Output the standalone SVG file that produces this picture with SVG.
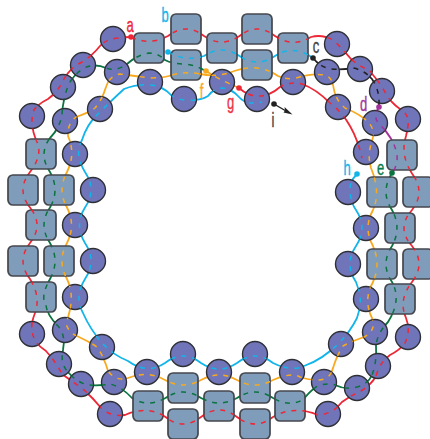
<svg xmlns="http://www.w3.org/2000/svg" width="430" height="439" viewBox="0 0 430 439">
<style>
.chain{fill:none;stroke-width:1.8;stroke-linecap:butt}
.dash{stroke-dasharray:5 6;stroke-width:1.5}
.red{stroke:#ee2737}.cyan{stroke:#12b5ea}.green{stroke:#0b7340}.orange{stroke:#f9a91e}.black{stroke:#222}.purple{stroke:#a4329a}
.c{fill:#6f75b8;stroke:#2f3036;stroke-width:1.4}
.s{fill:#7f9dbb;stroke:#45474d;stroke-width:1.7}
.lab{font-family:"Liberation Sans",Arial,sans-serif;font-size:21px;text-anchor:middle;stroke-width:.4}
</style>
<defs>
<path id="p-red" d="M131,37Q149,46 168,36Q186,22 204,36Q222,48 239.5,36Q257,22 275,36Q293,48 311,37Q322,34 333,40Q343,49 351,59Q360,67 369,70Q378,80 385,92Q390,102 400,109Q410,115 408,126Q407,132 406,136Q400,155 412,173.5Q426,192 412,210Q396,228 412,246Q426,264 412,282Q398,300 406,318Q411,330 405,343Q400,350 390,355Q380,362 376,376Q372,384 361,391Q350,396 342,402Q333,414 318,415Q293,405 273,417Q255,431 237,417Q219,403 201,417Q183,431 165.5,417Q148,405 125,415Q112,417 102,409Q93,398 82,388Q70,380 62,374Q56,362 46,351Q33,343 32,330Q31,323 35,313Q41,297 30,279Q16,261 30,243Q44,225 30,207.5Q16,190 30,172Q44,154 36,140Q30,125 33,112Q36,105 48,99Q58,92 64,79Q70,68 82,62Q92,56 100,46Q106,39 118,38Q125,37 131,37"/>
<path id="p-red2" d="M239,88Q248,96 258,96Q270,96 280,87Q290,81 302,84Q316,89 330,103Q343,113 350,126Q358,140 362,158"/>
<path id="p-cyan" d="M357,174Q349,182 350,192Q351,203 356,210Q368,228 356,246Q344,264 356,282Q364,300 357,318Q350,332 339,343Q322,360 304,366Q291,372 273,363Q255,349 237,363Q219,375 201,363Q183,349 165,363Q147,375 128,361Q113,355 102,343Q90,329 83,313Q74,297 85,279Q97,261 85,243Q74,225 85,207.5Q97,190 85,172Q74,154 82,140Q87,124 98,114Q112,100 124,89Q136,84 150,85Q163,86 171,95Q177,100 187,100Q200,101 208,96Q214,88 223,88Q233,90 238,96Q244,103 251,103Q256,103 262,102"/>
<path id="p-cyan2" d="M168,52Q186,62 204,56Q222,44 239.5,56Q257,68 275,56Q293,44 313,58"/>
<path id="p-green" d="M392,173Q380,192 392,210Q402,228 392,246Q380,264 392,282Q402,300 388,322Q378,332 376,345Q377,362 372,375Q368,384 357,387Q345,390 335,385Q326,382 316,387Q308,393 304,399Q290,408 273,398Q255,386 237,398Q219,408 201,398Q183,386 165.5,398Q148,408 132,398Q122,387 110,384Q100,386 88,385Q76,382 67,371Q60,362 63,350Q66,335 58,326Q47,315 46,305Q40,297 50,279Q60,261 50,243Q38,225 50,207.5Q60,190 50,172Q38,154 50,138Q60,128 62,114Q63,100 68,86Q73,75 84,68Q95,63 106,68Q116,72 127,64Q137,55 149,53Q158,53 165,60Q172,64 185,64Q195,65 206,71"/>
<path id="p-orange" d="M200,74Q215,77 229,73Q243,67 257,68Q270,70 278,76Q286,80 296,78Q312,73 324,75Q331,76 333,85Q335,100 345,108Q360,114 368,122Q376,130 372,141Q367,155 371,168Q381,192 373,210Q363,228 373,246Q381,264 373,282Q363,300 372,318Q377,330 364,337Q352,341 343,346Q337,355 333,368Q330,380 318,380Q308,380 300,377Q291,372 273,380Q255,390 237,380Q219,370 201,380Q183,390 165,380Q147,370 128,378Q116,382 108,371Q104,357 97,347Q88,341 79,337Q68,333 66,323Q76,297 67,279Q57,261 67,243Q76,225 67,207.5Q57,190 67,172Q76,154 68,136Q67,124 76,117Q88,113 95,108Q102,100 106,87Q109,76 120,74Q135,76 150,78Q165,78 172,75Q186,71 200,74"/>
<path id="p-orange2" d="M206,71Q218,79 239,88"/>
<path id="p-black" d="M313,58Q320,67 331,69Q343,70 353,68Q364,70 372,79Q380,90 379,107"/>
<path id="p-purple" d="M379,107Q372,117 380,125Q394,138 397,155Q398,165 392,173"/>
<clipPath id="inside">
<circle cx="113" cy="39" r="12.5"/><circle cx="83" cy="65" r="12.5"/><circle cx="63" cy="87" r="12.5"/><circle cx="32" cy="116" r="12.5"/><circle cx="117" cy="72" r="12.5"/><circle cx="65" cy="121" r="12.5"/><circle cx="100" cy="109" r="12.5"/><circle cx="150" cy="82" r="12.5"/><circle cx="184" cy="99" r="12.5"/><circle cx="222" cy="82" r="12.5"/><circle cx="257" cy="99" r="12.5"/><circle cx="293" cy="82" r="12.5"/><circle cx="327" cy="72" r="12.5"/><circle cx="337" cy="44" r="12.5"/><circle cx="360" cy="69" r="12.5"/><circle cx="382" cy="91" r="12.5"/><circle cx="338" cy="107" r="12.5"/><circle cx="375" cy="123" r="12.5"/><circle cx="408" cy="119" r="12.5"/><circle cx="366" cy="152" r="12.5"/><circle cx="348" cy="192" r="12.5"/><circle cx="366" cy="228" r="12.5"/><circle cx="348" cy="264" r="12.5"/><circle cx="366" cy="299" r="12.5"/><circle cx="375" cy="332" r="12.5"/><circle cx="408" cy="337" r="12.5"/><circle cx="341" cy="344" r="12.5"/><circle cx="378" cy="366" r="12.5"/><circle cx="357" cy="388" r="12.5"/><circle cx="324" cy="382" r="12.5"/><circle cx="328" cy="414" r="12.5"/><circle cx="292" cy="372" r="12.5"/><circle cx="255" cy="354" r="12.5"/><circle cx="219" cy="372" r="12.5"/><circle cx="183" cy="354" r="12.5"/><circle cx="147" cy="372" r="12.5"/><circle cx="114" cy="382" r="12.5"/><circle cx="110" cy="414" r="12.5"/><circle cx="81" cy="384" r="12.5"/><circle cx="59" cy="364" r="12.5"/><circle cx="102" cy="347" r="12.5"/><circle cx="65" cy="330" r="12.5"/><circle cx="32" cy="334" r="12.5"/><circle cx="75" cy="297" r="12.5"/><circle cx="93" cy="261" r="12.5"/><circle cx="75" cy="225" r="12.5"/><circle cx="93" cy="190" r="12.5"/><circle cx="75" cy="154" r="12.5"/>
<rect x="134" y="33" width="30" height="30" rx="5"/><rect x="171" y="14" width="30" height="30" rx="5"/><rect x="171" y="50" width="30" height="30" rx="5"/><rect x="207" y="33" width="30" height="30" rx="5"/><rect x="242" y="14" width="30" height="30" rx="5"/><rect x="242" y="50" width="30" height="30" rx="5"/><rect x="278" y="33" width="30" height="30" rx="5"/><rect x="387" y="140" width="30" height="30" rx="5"/><rect x="367" y="177" width="30" height="30" rx="5"/><rect x="403" y="177" width="30" height="30" rx="5"/><rect x="385" y="213" width="30" height="30" rx="5"/><rect x="367" y="249" width="30" height="30" rx="5"/><rect x="403" y="249" width="30" height="30" rx="5"/><rect x="385" y="284" width="30" height="30" rx="5"/><rect x="275" y="391" width="30" height="30" rx="5"/><rect x="240" y="373" width="30" height="30" rx="5"/><rect x="240" y="409" width="30" height="30" rx="5"/><rect x="204" y="391" width="30" height="30" rx="5"/><rect x="168" y="373" width="30" height="30" rx="5"/><rect x="168" y="409" width="30" height="30" rx="5"/><rect x="133" y="391" width="30" height="30" rx="5"/><rect x="26" y="282" width="30" height="30" rx="5"/><rect x="8" y="246" width="30" height="30" rx="5"/><rect x="44" y="246" width="30" height="30" rx="5"/><rect x="26" y="210" width="30" height="30" rx="5"/><rect x="8" y="175" width="30" height="30" rx="5"/><rect x="44" y="175" width="30" height="30" rx="5"/><rect x="26" y="139" width="30" height="30" rx="5"/>
</clipPath>
</defs>
<g id="connectors" class="chain">
<use href="#p-red" class="red"/><use href="#p-red2" class="red"/><use href="#p-cyan" class="cyan"/><use href="#p-cyan2" class="cyan"/><use href="#p-green" class="green"/><use href="#p-orange" class="orange"/><use href="#p-orange2" class="orange"/><use href="#p-black" class="black"/><use href="#p-purple" class="purple"/>
</g>
<g id="nodes">
<g id="n1"><circle class="c" cx="113" cy="39" r="12.5"/></g><g id="n2"><circle class="c" cx="83" cy="65" r="12.5"/></g><g id="n3"><circle class="c" cx="63" cy="87" r="12.5"/></g><g id="n4"><circle class="c" cx="32" cy="116" r="12.5"/></g><g id="n5"><circle class="c" cx="117" cy="72" r="12.5"/></g><g id="n6"><circle class="c" cx="65" cy="121" r="12.5"/></g><g id="n7"><circle class="c" cx="100" cy="109" r="12.5"/></g><g id="n8"><circle class="c" cx="150" cy="82" r="12.5"/></g><g id="n9"><circle class="c" cx="184" cy="99" r="12.5"/></g><g id="n10"><circle class="c" cx="222" cy="82" r="12.5"/></g><g id="n11"><circle class="c" cx="257" cy="99" r="12.5"/></g><g id="n12"><circle class="c" cx="293" cy="82" r="12.5"/></g><g id="n13"><circle class="c" cx="327" cy="72" r="12.5"/></g><g id="n14"><circle class="c" cx="337" cy="44" r="12.5"/></g><g id="n15"><circle class="c" cx="360" cy="69" r="12.5"/></g><g id="n16"><circle class="c" cx="382" cy="91" r="12.5"/></g><g id="n17"><circle class="c" cx="338" cy="107" r="12.5"/></g><g id="n18"><circle class="c" cx="375" cy="123" r="12.5"/></g><g id="n19"><circle class="c" cx="408" cy="119" r="12.5"/></g><g id="n20"><circle class="c" cx="366" cy="152" r="12.5"/></g><g id="n21"><circle class="c" cx="348" cy="192" r="12.5"/></g><g id="n22"><circle class="c" cx="366" cy="228" r="12.5"/></g><g id="n23"><circle class="c" cx="348" cy="264" r="12.5"/></g><g id="n24"><circle class="c" cx="366" cy="299" r="12.5"/></g><g id="n25"><circle class="c" cx="375" cy="332" r="12.5"/></g><g id="n26"><circle class="c" cx="408" cy="337" r="12.5"/></g><g id="n27"><circle class="c" cx="341" cy="344" r="12.5"/></g><g id="n28"><circle class="c" cx="378" cy="366" r="12.5"/></g><g id="n29"><circle class="c" cx="357" cy="388" r="12.5"/></g><g id="n30"><circle class="c" cx="324" cy="382" r="12.5"/></g><g id="n31"><circle class="c" cx="328" cy="414" r="12.5"/></g><g id="n32"><circle class="c" cx="292" cy="372" r="12.5"/></g><g id="n33"><circle class="c" cx="255" cy="354" r="12.5"/></g><g id="n34"><circle class="c" cx="219" cy="372" r="12.5"/></g><g id="n35"><circle class="c" cx="183" cy="354" r="12.5"/></g><g id="n36"><circle class="c" cx="147" cy="372" r="12.5"/></g><g id="n37"><circle class="c" cx="114" cy="382" r="12.5"/></g><g id="n38"><circle class="c" cx="110" cy="414" r="12.5"/></g><g id="n39"><circle class="c" cx="81" cy="384" r="12.5"/></g><g id="n40"><circle class="c" cx="59" cy="364" r="12.5"/></g><g id="n41"><circle class="c" cx="102" cy="347" r="12.5"/></g><g id="n42"><circle class="c" cx="65" cy="330" r="12.5"/></g><g id="n43"><circle class="c" cx="32" cy="334" r="12.5"/></g><g id="n44"><circle class="c" cx="75" cy="297" r="12.5"/></g><g id="n45"><circle class="c" cx="93" cy="261" r="12.5"/></g><g id="n46"><circle class="c" cx="75" cy="225" r="12.5"/></g><g id="n47"><circle class="c" cx="93" cy="190" r="12.5"/></g><g id="n48"><circle class="c" cx="75" cy="154" r="12.5"/></g>
<g id="s1"><rect class="s" x="134" y="33" width="30" height="30" rx="5"/></g><g id="s2"><rect class="s" x="171" y="14" width="30" height="30" rx="5"/></g><g id="s3"><rect class="s" x="171" y="50" width="30" height="30" rx="5"/></g><g id="s4"><rect class="s" x="207" y="33" width="30" height="30" rx="5"/></g><g id="s5"><rect class="s" x="242" y="14" width="30" height="30" rx="5"/></g><g id="s6"><rect class="s" x="242" y="50" width="30" height="30" rx="5"/></g><g id="s7"><rect class="s" x="278" y="33" width="30" height="30" rx="5"/></g><g id="s8"><rect class="s" x="387" y="140" width="30" height="30" rx="5"/></g><g id="s9"><rect class="s" x="367" y="177" width="30" height="30" rx="5"/></g><g id="s10"><rect class="s" x="403" y="177" width="30" height="30" rx="5"/></g><g id="s11"><rect class="s" x="385" y="213" width="30" height="30" rx="5"/></g><g id="s12"><rect class="s" x="367" y="249" width="30" height="30" rx="5"/></g><g id="s13"><rect class="s" x="403" y="249" width="30" height="30" rx="5"/></g><g id="s14"><rect class="s" x="385" y="284" width="30" height="30" rx="5"/></g><g id="s15"><rect class="s" x="275" y="391" width="30" height="30" rx="5"/></g><g id="s16"><rect class="s" x="240" y="373" width="30" height="30" rx="5"/></g><g id="s17"><rect class="s" x="240" y="409" width="30" height="30" rx="5"/></g><g id="s18"><rect class="s" x="204" y="391" width="30" height="30" rx="5"/></g><g id="s19"><rect class="s" x="168" y="373" width="30" height="30" rx="5"/></g><g id="s20"><rect class="s" x="168" y="409" width="30" height="30" rx="5"/></g><g id="s21"><rect class="s" x="133" y="391" width="30" height="30" rx="5"/></g><g id="s22"><rect class="s" x="26" y="282" width="30" height="30" rx="5"/></g><g id="s23"><rect class="s" x="8" y="246" width="30" height="30" rx="5"/></g><g id="s24"><rect class="s" x="44" y="246" width="30" height="30" rx="5"/></g><g id="s25"><rect class="s" x="26" y="210" width="30" height="30" rx="5"/></g><g id="s26"><rect class="s" x="8" y="175" width="30" height="30" rx="5"/></g><g id="s27"><rect class="s" x="44" y="175" width="30" height="30" rx="5"/></g><g id="s28"><rect class="s" x="26" y="139" width="30" height="30" rx="5"/></g>
</g>
<g id="inner-dashes" class="chain dash" clip-path="url(#inside)">
<use href="#p-red" class="red"/><use href="#p-red2" class="red"/><use href="#p-cyan" class="cyan"/><use href="#p-cyan2" class="cyan"/><use href="#p-green" class="green"/><use href="#p-orange" class="orange"/><use href="#p-orange2" class="orange"/><use href="#p-black" class="black"/><use href="#p-purple" class="purple"/>
</g>
<g id="markers">
<circle cx="131" cy="37" r="2.8" fill="#ee2737"/><circle cx="168" cy="52" r="2.8" fill="#12b5ea"/><circle cx="313" cy="58" r="2.8" fill="#222"/><circle cx="379" cy="107" r="2.8" fill="#a4329a"/><circle cx="392" cy="173" r="2.8" fill="#0b7340"/><circle cx="206" cy="71" r="2.8" fill="#f9a91e"/><circle cx="239" cy="88" r="2.8" fill="#ee2737"/><circle cx="357" cy="174" r="2.8" fill="#12b5ea"/><circle cx="274" cy="104" r="2.8" fill="#222"/>
<path d="M274,104L286,111" fill="none" stroke="#222" stroke-width="1.4"/>
<polygon points="292.5,114.5 283.5,112.5 285,110.5 284.5,107" fill="#222"/>
</g>
<g id="labels">
<text class="lab" fill="#ee2737" stroke="#ee2737" transform="translate(130 32) scale(.62 1)">a</text>
<text class="lab" fill="#12b5ea" stroke="#12b5ea" transform="translate(165 22) scale(.62 1)">b</text>
<text class="lab" fill="#444" stroke="#444" transform="translate(316 53) scale(.62 1)">c</text>
<text class="lab" fill="#a4329a" stroke="#a4329a" transform="translate(363.5 111) scale(.62 1)">d</text>
<text class="lab" fill="#0b7a4b" stroke="#0b7a4b" transform="translate(380.5 175) scale(.62 1)">e</text>
<text class="lab" fill="#f9a91e" stroke="#f9a91e" transform="translate(201.5 98) scale(.62 1)">f</text>
<text class="lab" fill="#ee3344" stroke="#ee3344" transform="translate(230.5 109) scale(.62 1)">g</text>
<text class="lab" fill="#12b5ea" stroke="#12b5ea" transform="translate(347 175) scale(.62 1)">h</text>
<text class="lab" fill="#444" stroke="#444" transform="translate(273 127) scale(.62 1)">i</text>
</g>
</svg>
